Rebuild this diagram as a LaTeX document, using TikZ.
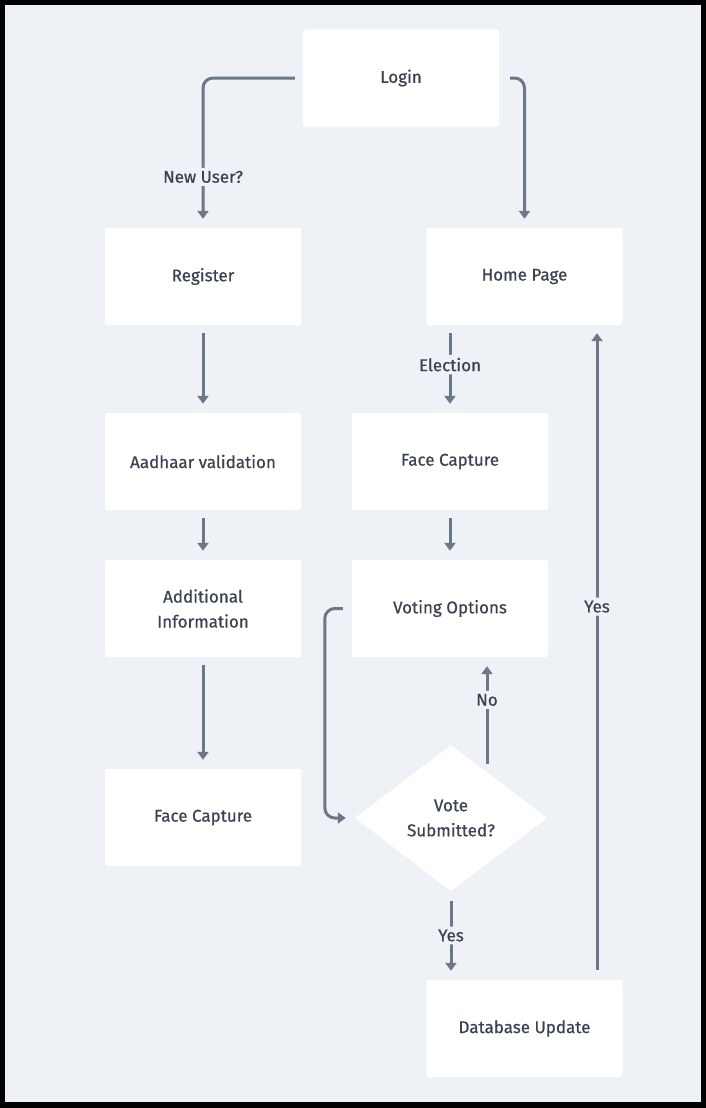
\documentclass[tikz,border=0pt]{standalone}
\usepackage{fontspec}
\setmainfont{Fira Sans}[UprightFeatures={FakeBold=0.6}]
\usetikzlibrary{arrows.meta,shapes.geometric}
\definecolor{bgc}{HTML}{EEF2F6}
\definecolor{linec}{HTML}{6B7888}
\definecolor{txtc}{HTML}{3A4350}
\begin{document}
\begin{tikzpicture}[x=1pt,y=-1pt,
  txt/.style={font=\fontsize{17}{25}\selectfont, text=txtc},
  box/.style={txt, fill=white, rounded corners=2pt, minimum width=196pt, minimum height=97pt, inner sep=0pt, align=center},
  dia/.style={txt, diamond, fill=white, minimum width=192pt, minimum height=146pt, inner sep=0pt, align=center},
  conn/.style={draw=linec, line width=3pt, -{Triangle[width=11pt,length=8pt]}, rounded corners=10pt, shorten <=8pt, shorten >=9pt},
  lbl/.style={txt, fill=bgc, inner sep=3pt}]
% frame
\fill[black] (0,0) rectangle (706,1108);
\fill[bgc] (5,5) rectangle (701,1102);
% nodes
\node[box] (login) at (401,78) {Login};
\node[box] (register) at (203,276.5) {Register};
\node[box] (home) at (524.5,276.5) {Home Page};
\node[box] (aadhaar) at (203,461.5) {Aadhaar validation};
\node[box] (fc1) at (450,461.5) {Face Capture};
\node[box] (addl) at (203,608.5) {Additional\\Information};
\node[box] (voting) at (450,608.5) {Voting Options};
\node[box] (fc2) at (203,817.5) {Face Capture};
\node[dia] (vote) at (451,818) {Vote\\Submitted?};
\node[box] (db) at (524.5,1028.5) {Database Update};
\coordinate (nostart) at (487,764);
\coordinate (yesx) at (597,0);
% connectors
\draw[conn] (login.west) -| node[lbl, pos=0.83] {New User?} (register.north);
\draw[conn, shorten <=11pt] (login.east) -| (home.north);
\draw[conn] (register.south) -- (aadhaar.north);
\draw[conn] (home.south -| fc1.north) -- node[lbl, pos=0.45] {Election} (fc1.north);
\draw[conn] (aadhaar.south) -- (addl.north);
\draw[conn] (fc1.south) -- (voting.south |- voting.north);
\draw[conn] (addl.south) -- (fc2.north);
\draw[conn, shorten <=9pt] (voting.west) -- ++(-27,0) |- (vote.west);
\draw[conn, shorten <=0pt] (nostart) -- node[lbl, pos=0.6] {No} (voting.south -| nostart);
\draw[conn, shorten <=10pt] (vote.south) -- node[lbl, pos=0.5] {Yes} (vote.south |- db.north);
\draw[conn, shorten <=10pt, shorten >=8pt] (db.north -| yesx) -- node[lbl, pos=0.57] {Yes} (home.south -| yesx);
\end{tikzpicture}
\end{document}
